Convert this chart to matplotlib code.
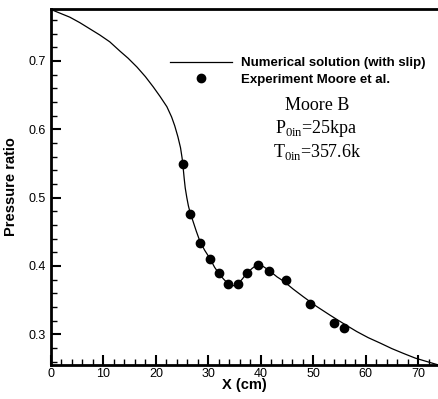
import numpy as np
import matplotlib
matplotlib.use('Agg')
import matplotlib.pyplot as plt

plt.rcParams['font.family'] = ['Liberation Sans', 'DejaVu Sans']
plt.rcParams['mathtext.fontset'] = 'custom'
plt.rcParams['mathtext.rm'] = 'Liberation Serif'

# ── Data ──────────────────────────────────────────
# numerical solution (with slip), read along the nozzle
x_num = [0.0, 0.4, 2.0, 3.6, 5.5, 7.4, 9.3, 11.2, 13.2, 14.7, 16.4, 18.0,
         19.5, 20.8, 22.1, 23.0, 23.6, 24.2, 24.7, 25.0, 25.2, 25.4, 25.6,
         25.9, 26.2, 26.5, 27.1, 27.7, 28.4, 29.3, 30.3, 31.2, 32.2, 33.0,
         33.8, 34.8, 35.7, 36.5, 37.3, 38.3, 39.3, 39.7, 40.5, 41.5, 43.1,
         44.3, 46.2, 48.1, 50.6, 53.2, 55.7, 58.3, 60.5, 62.8, 65.0, 67.2,
         69.5, 71.7, 73.9]
p_num = [0.776, 0.774, 0.769, 0.764, 0.756, 0.747, 0.738, 0.728, 0.714,
         0.704, 0.691, 0.677, 0.662, 0.648, 0.633, 0.618, 0.605, 0.589,
         0.573, 0.558, 0.544, 0.528, 0.514, 0.500, 0.488, 0.479, 0.465,
         0.451, 0.436, 0.423, 0.411, 0.398, 0.387, 0.380, 0.374, 0.371,
         0.374, 0.381, 0.389, 0.396, 0.402, 0.403, 0.399, 0.394, 0.384,
         0.378, 0.366, 0.355, 0.341, 0.328, 0.316, 0.304, 0.295, 0.287,
         0.279, 0.272, 0.265, 0.260, 0.255]

# experiment, Moore et al.
x_exp = [25.2, 26.6, 28.4, 30.3, 32.1, 33.8, 35.6, 37.3, 39.4, 41.6, 44.8,
         49.3, 54.0, 55.9]
p_exp = [0.549, 0.476, 0.434, 0.410, 0.389, 0.374, 0.374, 0.390, 0.401,
         0.393, 0.380, 0.344, 0.317, 0.309]

x_ticks = [0, 10, 20, 30, 40, 50, 60, 70]
y_ticks = [0.3, 0.4, 0.5, 0.6, 0.7]

# ── Plot ──────────────────────────────────────────
fig = plt.figure(figsize=(4.39, 3.99), dpi=100)
ax = fig.add_axes([51 / 439, 34 / 399, 387.5 / 439, 356 / 399])

ax.plot(x_num, p_num, color='black', linewidth=0.9,
        label='Numerical solution (with slip)')
ax.plot(x_exp, p_exp, 'o', color='black', markersize=6,
        label='Experiment Moore et al.')

ax.set_xlim(0, 73.9)
ax.set_ylim(0.255, 0.776)
ax.set_xticks(x_ticks)
ax.set_yticks(y_ticks)
ax.set_xticks(np.arange(0, 74, 2), minor=True)
ax.set_yticks(np.arange(0.26, 0.78, 0.02), minor=True)
ax.tick_params(which='both', direction='in', labelsize=9, colors='black')
ax.tick_params(which='major', length=7, width=1.5)
ax.tick_params(which='minor', length=4, width=1)
ax.tick_params(axis='x', pad=2)
ax.tick_params(axis='y', pad=4)

for side in ['left', 'bottom', 'top']:
    ax.spines[side].set_linewidth(2)
ax.spines['right'].set_visible(False)

ax.set_xlabel('X (cm)', fontsize=10.5, fontweight='bold', labelpad=-1)
ax.set_ylabel('Pressure ratio', fontsize=10.5, fontweight='bold', labelpad=7)

ax.legend(loc='upper left', bbox_to_anchor=(0.289, 0.884), frameon=False,
          borderpad=0, handlelength=4.7, handletextpad=0.75,
          labelspacing=0.35, prop={'weight': 'bold', 'size': 9.5})

serif = {'family': 'Liberation Serif', 'size': 13}
ax.text(0.686, 0.728, 'Moore B', transform=ax.transAxes,
        ha='center', va='center', fontdict=serif)
ax.text(0.686, 0.664, r'P$_{\mathrm{0in}}$=25kpa', transform=ax.transAxes,
        ha='center', va='center', fontdict=serif)
ax.text(0.686, 0.598, r'T$_{\mathrm{0in}}$=357.6k', transform=ax.transAxes,
        ha='center', va='center', fontdict=serif)

fig.savefig('out.png', dpi=100)
